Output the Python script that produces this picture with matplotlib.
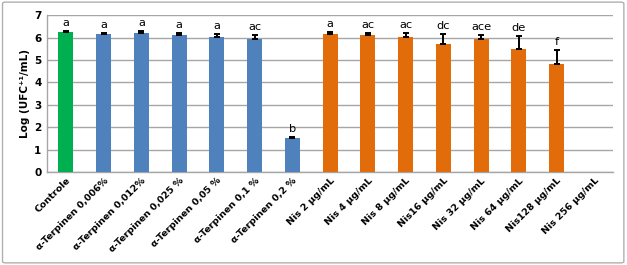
import matplotlib
matplotlib.use("Agg")
import matplotlib.pyplot as plt
import numpy as np
from matplotlib.patches import FancyBboxPatch

# ── data ────────────────────────────────────────────────────────────────
categories = [
    "Controle",
    "α-Terpinen 0,006%",
    "α-Terpinen 0,012%",
    "α-Terpinen 0,025 %",
    "α-Terpinen 0,05 %",
    "α-Terpinen 0,1 %",
    "α-Terpinen 0,2 %",
    "Nis 2 µg/mL",
    "Nis 4 µg/mL",
    "Nis 8 µg/mL",
    "Nis16 µg/mL",
    "Nis 32 µg/mL",
    "Nis 64 µg/mL",
    "Nis128 µg/mL",
    "Nis 256 µg/mL",
]
values = [6.25, 6.17, 6.21, 6.12, 6.04, 5.94, 1.53,
          6.17, 6.13, 6.02, 5.71, 5.92, 5.48, 4.80, 0.0]
errors = [0.03, 0.05, 0.08, 0.10, 0.12, 0.16, 0.05,
          0.09, 0.08, 0.20, 0.44, 0.19, 0.58, 0.66, 0.0]
letters = ["a", "a", "a", "a", "a", "ac", "b",
           "a", "ac", "ac", "dc", "ace", "de", "f", ""]
groups = ["ctrl"] + ["terp"] * 6 + ["nis"] * 8

# ── palette ─────────────────────────────────────────────────────────────
GROUP_COLOR = {"ctrl": "#00B050", "terp": "#4F81BD", "nis": "#E36C0A"}
GRID_COLOR = "#A6A6A6"

fig = plt.figure(figsize=(6.27, 2.65), dpi=100)
ax = fig.add_axes([0.075, 0.351, 0.903, 0.592])

x = np.arange(len(categories))
colors = [GROUP_COLOR[g] for g in groups]

ax.bar(x, values, width=0.4, color=colors, zorder=3)
has_err = [v > 0 for v in values]
ax.errorbar(x[has_err], np.array(values)[has_err],
            yerr=[np.zeros(sum(has_err)), np.array(errors)[has_err]],
            fmt="none", ecolor="black", elinewidth=1.4, capsize=2.5,
            capthick=1.4, zorder=4)

for xi, v, e, lab in zip(x, values, errors, letters):
    if lab:
        ax.annotate(lab, xy=(xi, v + e), xytext=(0, 2),
                    textcoords="offset points", ha="center", va="bottom",
                    fontsize=8.2, color="black")

ax.set_xlim(-0.5, len(categories) - 0.5)
ax.set_ylim(0, 7)
ax.set_yticks(range(0, 8))
ax.set_yticklabels([str(i) for i in range(0, 8)], fontsize=7.5,
                   fontweight="bold")
ax.set_xticks(x)
ax.set_xticklabels(categories, rotation=45, ha="right",
                   rotation_mode="anchor", fontsize=6.8, fontweight="bold")
ax.tick_params(axis="x", length=0, pad=3)
ax.tick_params(axis="y", length=0, pad=4)

ax.grid(axis="y", color=GRID_COLOR, lw=1.0, zorder=0)
ax.spines[["top", "right"]].set_visible(False)
ax.spines["left"].set_color(GRID_COLOR)
ax.spines["bottom"].set_color(GRID_COLOR)
ax.spines["left"].set_linewidth(1.0)
ax.spines["bottom"].set_linewidth(1.0)

ax.set_ylabel("Log (UFC⁺¹/mL)", fontsize=7.5, fontweight="bold", labelpad=3)

# outer chart border
border = FancyBboxPatch((0.004, 0.008), 0.991, 0.984,
                        boxstyle="round,pad=0,rounding_size=0.005",
                        transform=fig.transFigure, fill=False,
                        edgecolor="#B0B0B0", lw=1.0)
fig.patches.append(border)

fig.savefig("out.png", dpi=100)
